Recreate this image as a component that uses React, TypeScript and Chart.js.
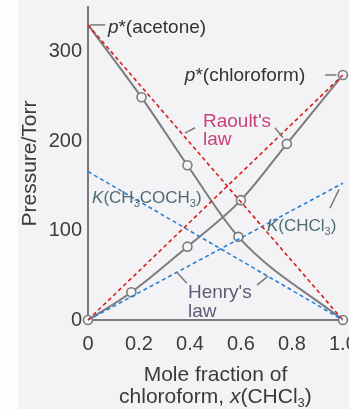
import React, { useEffect, useRef } from "react";
import { Chart, registerables } from "chart.js";

Chart.register(...registerables);

// ---- data ----
const xTickValues = [0, 0.2, 0.4, 0.6, 0.8, 1.0];
const xTickLabels = ["0", "0.2", "0.4", "0.6", "0.8", "1.0"];
const yTickValues = [0, 100, 200, 300];

const acetoneX = [0, 0.21, 0.39, 0.59, 1.0];
const acetoneP = [330, 249, 173, 93, 0];
const acetoneMarked = [false, true, true, true, true];

const chloroformX = [0, 0.17, 0.39, 0.6, 0.78, 1.0];
const chloroformP = [0, 31, 82, 134, 197, 274];
const chloroformMarked = [true, true, true, true, true, true];

const lineEndsX = [0, 1];
const raoultAcetone = [330, 0];
const raoultChloroform = [0, 274];
const henryAcetone = [166, 0];
const henryChloroform = [0, 153];

const FAMILY = '"Liberation Sans", Arial, Helvetica, sans-serif';

type Seg = { t: string; i?: boolean; sub?: boolean };

function drawRich(
  ctx: CanvasRenderingContext2D,
  segs: Seg[],
  x: number,
  y: number,
  size: number,
  color: string,
  align: "left" | "center" | "right" = "left"
) {
  const fontFor = (s: Seg) =>
    `${s.i ? "italic " : ""}${s.sub ? Math.round(size * 0.62) : size}px ${FAMILY}`;
  let w = 0;
  for (const s of segs) {
    ctx.font = fontFor(s);
    w += ctx.measureText(s.t).width;
  }
  let cx = align === "center" ? x - w / 2 : align === "right" ? x - w : x;
  ctx.fillStyle = color;
  ctx.textBaseline = "middle";
  ctx.textAlign = "left";
  for (const s of segs) {
    ctx.font = fontFor(s);
    ctx.fillText(s.t, cx, y + (s.sub ? size * 0.32 : 0));
    cx += ctx.measureText(s.t).width;
  }
}

const bgPlugin = {
  id: "bg",
  beforeDraw(chart: any) {
    const { ctx, width, height } = chart;
    ctx.save();
    ctx.fillStyle = "#fdfdfd";
    ctx.fillRect(0, 0, width, height);
    ctx.fillStyle = "#f3f3f6";
    ctx.fillRect(18, 0, width - 18, height);
    ctx.restore();
  },
};

const annotPlugin = {
  id: "annot",
  afterDraw(chart: any) {
    const { ctx, chartArea } = chart;
    const xs = chart.scales.x;
    const ys = chart.scales.y;
    const px = (v: number) => xs.getPixelForValue(v);
    const py = (v: number) => ys.getPixelForValue(v);
    ctx.save();

    // leader lines
    ctx.strokeStyle = "#7a7a7a";
    ctx.lineWidth = 1.5;
    const seg = (x1: number, y1: number, x2: number, y2: number) => {
      ctx.beginPath();
      ctx.moveTo(px(x1), py(y1));
      ctx.lineTo(px(x2), py(y2));
      ctx.stroke();
    };
    seg(0.008, 330, 0.067, 330);
    seg(0.93, 274, 0.975, 274);
    seg(0.38, 209, 0.42, 215);
    seg(0.733, 215, 0.765, 204);
    seg(0.949, 125, 0.985, 146);
    seg(0.349, 53, 0.388, 41);
    seg(0.663, 39, 0.706, 49);

    // labels
    drawRich(ctx, [{ t: "p", i: true }, { t: "*(acetone)" }], px(0.078), py(327), 19, "#333333");
    drawRich(ctx, [{ t: "p", i: true }, { t: "*(chloroform)" }], px(0.38), py(273), 19, "#333333");
    drawRich(ctx, [{ t: "Raoult's" }], px(0.451), py(222), 19, "#c8437a");
    drawRich(ctx, [{ t: "law" }], px(0.451), py(202), 19, "#c8437a");
    drawRich(
      ctx,
      [{ t: "K", i: true }, { t: "(CH" }, { t: "3", sub: true }, { t: "COCH" }, { t: "3", sub: true }, { t: ")" }],
      px(0.016),
      py(136),
      17,
      "#4f6b73"
    );
    drawRich(
      ctx,
      [{ t: "K", i: true }, { t: "(CHCl" }, { t: "3", sub: true }, { t: ")" }],
      px(0.702),
      py(105),
      17,
      "#4f6b73"
    );
    drawRich(ctx, [{ t: "Henry's" }], px(0.392), py(30), 19, "#5a5d75");
    drawRich(ctx, [{ t: "law" }], px(0.392), py(9), 19, "#5a5d75");

    // axis titles
    const cxMid = (chartArea.left + chartArea.right) / 2;
    drawRich(ctx, [{ t: "Mole fraction of" }], cxMid, chartArea.bottom + 55, 21, "#3a3a3a", "center");
    drawRich(
      ctx,
      [{ t: "chloroform, " }, { t: "x", i: true }, { t: "(CHCl" }, { t: "3", sub: true }, { t: ")" }],
      cxMid,
      chartArea.bottom + 77,
      21,
      "#3a3a3a",
      "center"
    );
    ctx.save();
    ctx.translate(30, (chartArea.top + chartArea.bottom) / 2);
    ctx.rotate(-Math.PI / 2);
    drawRich(ctx, [{ t: "Pressure/Torr" }], 0, 0, 21, "#3a3a3a", "center");
    ctx.restore();

    ctx.restore();
  },
};

function toPts(xs: number[], ys: number[]) {
  return xs.map((x, i) => ({ x, y: ys[i] }));
}

export default function App() {
  const ref = useRef<HTMLCanvasElement | null>(null);

  useEffect(() => {
    if (!ref.current) return;
    const grey = "#7c7c7c";
    const red = "#d42020";
    const blue = "#2a7fd4";
    const dashed = (data: number[], color: string) => ({
      data: toPts(lineEndsX, data),
      borderColor: color,
      borderWidth: 1.6,
      borderDash: [4, 3],
      pointRadius: 0,
      fill: false,
      clip: false as any,
      order: 1,
    });
    const chart = new Chart(ref.current, {
      type: "line",
      data: {
        datasets: [
          dashed(raoultAcetone, red),
          dashed(raoultChloroform, red),
          dashed(henryAcetone, blue),
          dashed(henryChloroform, blue),
          {
            data: toPts(acetoneX, acetoneP),
            borderColor: grey,
            borderWidth: 2,
            cubicInterpolationMode: "monotone",
            pointRadius: acetoneMarked.map((m) => (m ? 4.5 : 0)),
            pointBackgroundColor: "#f6f6f8",
            pointBorderColor: grey,
            pointBorderWidth: 1.6,
            fill: false,
            clip: false as any,
            order: 2,
          },
          {
            data: toPts(chloroformX, chloroformP),
            borderColor: grey,
            borderWidth: 2,
            cubicInterpolationMode: "monotone",
            pointRadius: chloroformMarked.map((m) => (m ? 4.5 : 0)),
            pointBackgroundColor: "#f6f6f8",
            pointBorderColor: grey,
            pointBorderWidth: 1.6,
            fill: false,
            clip: false as any,
            order: 2,
          },
        ],
      },
      options: {
        animation: false,
        responsive: false,
        maintainAspectRatio: false,
        layout: { padding: { left: 0, right: 6, top: 7, bottom: 0 } },
        plugins: {
          legend: { display: false },
          tooltip: { enabled: false },
          title: { display: false },
        },
        scales: {
          x: {
            type: "linear",
            min: 0,
            max: 1,
            position: "bottom",
            afterBuildTicks: (s: any) => {
              s.ticks = xTickValues.map((v) => ({ value: v }));
            },
            afterFit: (s: any) => {
              s.height = 89;
              s.paddingLeft = 0;
              s.paddingRight = 0;
            },
            ticks: {
              autoSkip: false,
              maxRotation: 0,
              padding: 12,
              color: "#3c3c3c",
              font: { size: 20, family: FAMILY },
              callback: (v: any) => xTickLabels[xTickValues.indexOf(Number(v))] ?? "",
            },
            grid: { display: false, drawTicks: false },
            border: { display: true, color: "#7a7a7a", width: 2 },
          },
          y: {
            type: "linear",
            min: 0,
            max: 350,
            afterBuildTicks: (s: any) => {
              s.ticks = yTickValues.map((v) => ({ value: v }));
            },
            afterFit: (s: any) => {
              s.width = 88;
              s.paddingTop = 0;
              s.paddingBottom = 0;
            },
            ticks: {
              padding: 6,
              color: "#3c3c3c",
              font: { size: 20, family: FAMILY },
              callback: (v: any) => String(v),
            },
            grid: { display: false, drawTicks: false },
            border: { display: true, color: "#7a7a7a", width: 2 },
          },
        },
      },
      plugins: [bgPlugin, annotPlugin],
    } as any);
    return () => chart.destroy();
  }, []);

  return (
    <div style={{ position: "fixed", left: 0, top: 0, width: 349, height: 409 }}>
      <canvas ref={ref} width={349} height={409} style={{ display: "block" }} />
    </div>
  );
}
